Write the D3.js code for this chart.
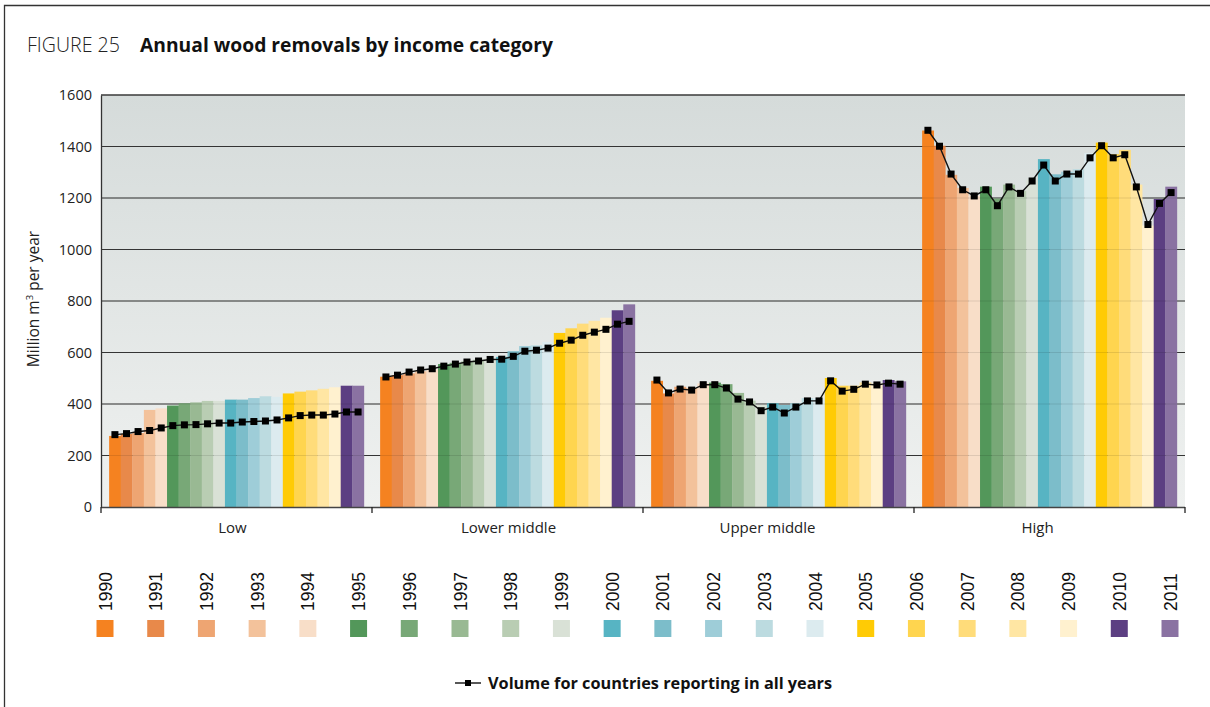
<!DOCTYPE html>
<html>
<head>
<meta charset="utf-8">
<script src="https://cdn.jsdelivr.net/npm/d3@7"></script>
<style>
  html, body { margin: 0; padding: 0; background: #fff; }
  svg { display: block; }
</style>
</head>
<body>
<svg id="chart" width="1210" height="707"></svg>
<script>
// Years shown as colour-coded columns within each income category
const years = ["1990","1991","1992","1993","1994","1995","1996","1997","1998","1999","2000",
               "2001","2002","2003","2004","2005","2006","2007","2008","2009","2010","2011"];
const yearColors = ["#F58220","#E8894A","#EEA572","#F3C29B","#F8DEC8",
                    "#53975A","#78A877","#99B993","#B9CDB3","#D9E1D6",
                    "#57B4C3","#7CBDCA","#9ECDD8","#BCDBE0","#DCEBEF",
                    "#FFCB05","#FFD54F","#FFDC7A","#FFE6A3","#FFF1CF",
                    "#5C3F82","#8A72A2"];
const categories = ["Low","Lower middle","Upper middle","High"];

// Total annual removals (million m3)
const lowTotal         = [276,284,287,377,383,394,403,406,412,412,417,417,423,430,428,441,448,453,459,465,471,471];
const lowerMiddleTotal = [506,512,519,527,534,555,560,565,572,577,583,605,625,628,641,676,694,712,723,735,764,787];
const upperMiddleTotal = [490,441,467,462,480,483,477,443,413,397,403,396,403,423,423,501,471,471,484,480,493,488];
const highTotal        = [1462,1403,1290,1239,1209,1244,1198,1252,1228,1271,1351,1292,1302,1312,1374,1415,1370,1387,1252,1093,1196,1244];

// Volume for countries reporting in all years (million m3)
const lowReporting         = [281,285,293,297,307,316,319,320,323,326,326,330,332,334,338,346,355,357,357,361,369,369];
const lowerMiddleReporting = [505,512,524,532,537,547,555,563,567,573,574,585,605,609,617,636,648,667,679,690,710,721];
const upperMiddleReporting = [493,443,458,454,475,475,462,419,408,374,388,365,388,412,412,490,450,457,477,474,481,477];
const highReporting        = [1463,1401,1293,1232,1208,1232,1170,1243,1218,1266,1328,1266,1293,1293,1356,1403,1356,1368,1243,1097,1179,1221];

const yTicks = [0,200,400,600,800,1000,1200,1400,1600];

const totals = [lowTotal, lowerMiddleTotal, upperMiddleTotal, highTotal];
const reporting = [lowReporting, lowerMiddleReporting, upperMiddleReporting, highReporting];

const svg = d3.select("#chart");
const FONT = "'Open Sans', 'Noto Sans', sans-serif";

// Outer frame
svg.append("path")
  .attr("d", "M4.5,707 L4.5,5.5 L1210,5.5")
  .attr("fill", "none").attr("stroke", "#333").attr("stroke-width", 1.3);

// Title
const title = svg.append("text").attr("x", 27).attr("y", 52)
  .attr("font-family", FONT).attr("font-size", 20).attr("fill", "#222");
title.append("tspan").attr("font-weight", 300).text("FIGURE 25");
const t2 = svg.append("text").attr("x", 140).attr("y", 52)
  .attr("font-family", FONT).attr("font-size", 20).attr("font-weight", 700).attr("fill", "#111")
  .text("Annual wood removals by income category");
// fit widths of the condensed heading
title.attr("textLength", 93).attr("lengthAdjust", "spacingAndGlyphs");
t2.attr("textLength", 413).attr("lengthAdjust", "spacingAndGlyphs");

// Plot geometry
const plot = { left: 101, right: 1185, top: 95, bottom: 507 };

const y = d3.scaleLinear().domain([0, 1600]).range([plot.bottom, plot.top]);
const xGroup = d3.scaleBand().domain(categories)
  .range([plot.left, plot.right]).paddingInner(0.06).paddingOuter(0.03);
const xYear = d3.scaleBand().domain(years).range([0, xGroup.bandwidth()]).padding(0);

// Background gradient
const defs = svg.append("defs");
const grad = defs.append("linearGradient").attr("id", "bg").attr("x1", 0).attr("y1", 0).attr("x2", 0).attr("y2", 1);
grad.append("stop").attr("offset", "0%").attr("stop-color", "#D5DBDA");
grad.append("stop").attr("offset", "100%").attr("stop-color", "#EFF1F0");
svg.append("rect").attr("x", plot.left).attr("y", plot.top)
  .attr("width", plot.right - plot.left).attr("height", plot.bottom - plot.top)
  .attr("fill", "url(#bg)");

// Gridlines
const grid = svg.append("g");
grid.selectAll("line").data(yTicks.filter(d => d > 0)).join("line")
  .attr("x1", plot.left).attr("x2", plot.right)
  .attr("y1", d => y(d)).attr("y2", d => y(d))
  .attr("stroke", "#3a3a3a").attr("stroke-width", d => d === 1600 ? 1.4 : 1.2);

// Columns
categories.forEach((cat, gi) => {
  const g = svg.append("g").attr("transform", `translate(${xGroup(cat)},0)`);
  g.selectAll("rect").data(totals[gi]).join("rect")
    .attr("x", (d, i) => xYear(years[i]))
    .attr("width", xYear.bandwidth() + 0.3)
    .attr("y", d => y(d))
    .attr("height", d => y(0) - y(d))
    .attr("fill", (d, i) => yearColors[i]);
});

// Faint gridlines showing through the columns
svg.append("g").selectAll("line").data(yTicks.filter(d => d > 0 && d < 1600)).join("line")
  .attr("x1", plot.left).attr("x2", plot.right)
  .attr("y1", d => y(d)).attr("y2", d => y(d))
  .attr("stroke", "#000").attr("stroke-opacity", 0.1).attr("stroke-width", 1.2);

// Reporting-countries line with square markers
const line = d3.line().x(d => d[0]).y(d => d[1]);
categories.forEach((cat, gi) => {
  const pts = reporting[gi].map((v, i) => [xGroup(cat) + xYear(years[i]) + xYear.bandwidth() / 2, y(v)]);
  svg.append("path").attr("d", line(pts))
    .attr("fill", "none").attr("stroke", "#111").attr("stroke-width", 1.4);
  svg.append("g").selectAll("rect").data(pts).join("rect")
    .attr("x", d => d[0] - 3.5).attr("y", d => d[1] - 3.5)
    .attr("width", 7).attr("height", 7).attr("fill", "#000");
});

// Y axis
const yAxis = d3.axisLeft(y).tickValues(yTicks).tickSize(0).tickPadding(9).tickFormat(d3.format("d"));
const ya = svg.append("g").attr("transform", `translate(${plot.left},0)`).call(yAxis);
ya.select(".domain").attr("stroke", "#333").attr("stroke-width", 1.3);
ya.selectAll("text").attr("font-family", FONT).attr("font-size", 14.5).attr("fill", "#222");

// Y axis title
const yt = svg.append("text")
  .attr("transform", "translate(39,299) rotate(-90)")
  .attr("text-anchor", "middle").attr("font-family", FONT).attr("font-size", 15.5).attr("fill", "#222");
yt.append("tspan").text("Million m");
yt.append("tspan").attr("font-size", 9.5).attr("dy", -6).text("3");
yt.append("tspan").attr("dy", 6).text(" per year");

// X axis: baseline, category boundary ticks and labels
const xa = svg.append("g");
xa.append("line").attr("x1", plot.left).attr("x2", plot.right)
  .attr("y1", plot.bottom + 0.5).attr("y2", plot.bottom + 0.5)
  .attr("stroke", "#444").attr("stroke-width", 1.3);
const step = xGroup.step();
const bounds = [plot.left, ...categories.slice(1).map(c => xGroup(c) - step * xGroup.paddingInner() / 2), plot.right];
xa.selectAll("line.tick").data(bounds).join("line").attr("class", "tick")
  .attr("x1", d => d).attr("x2", d => d)
  .attr("y1", plot.bottom).attr("y2", plot.bottom + 6)
  .attr("stroke", "#222").attr("stroke-width", 1.3);
// label nudges so each name sits where the layout places it
const labelNudge = [-4, 1, -11, -12];
xa.selectAll("text").data(categories).join("text")
  .attr("x", (d, i) => xGroup(d) + xGroup.bandwidth() / 2 + labelNudge[i])
  .attr("y", plot.bottom + 26)
  .attr("text-anchor", "middle").attr("font-family", FONT).attr("font-size", 15).attr("fill", "#222")
  .text(d => d);

// Year legend: rotated labels with colour swatches
const xLegend = d3.scalePoint().domain(years).range([105, 1170]);
const leg = svg.append("g");
leg.selectAll("text").data(years).join("text")
  .attr("transform", d => `translate(${xLegend(d) + 6.5},611) rotate(-90)`)
  .attr("font-family", "'Liberation Sans', Arial, sans-serif").attr("font-size", 17.5).attr("fill", "#111")
  .text(d => d);
leg.selectAll("rect").data(years).join("rect")
  .attr("x", d => xLegend(d) - 8.5).attr("y", 620)
  .attr("width", 17).attr("height", 17)
  .attr("fill", (d, i) => yearColors[i]);

// Line legend
const ll = svg.append("g");
ll.append("line").attr("x1", 455).attr("x2", 481).attr("y1", 683).attr("y2", 683)
  .attr("stroke", "#111").attr("stroke-width", 1.4);
ll.append("rect").attr("x", 465).attr("y", 680).attr("width", 6).attr("height", 6).attr("fill", "#000");
ll.append("text").attr("x", 488).attr("y", 689)
  .attr("font-family", FONT).attr("font-size", 16).attr("font-weight", 700).attr("fill", "#111")
  .attr("textLength", 344).attr("lengthAdjust", "spacingAndGlyphs")
  .text("Volume for countries reporting in all years");
</script>
</body>
</html>
